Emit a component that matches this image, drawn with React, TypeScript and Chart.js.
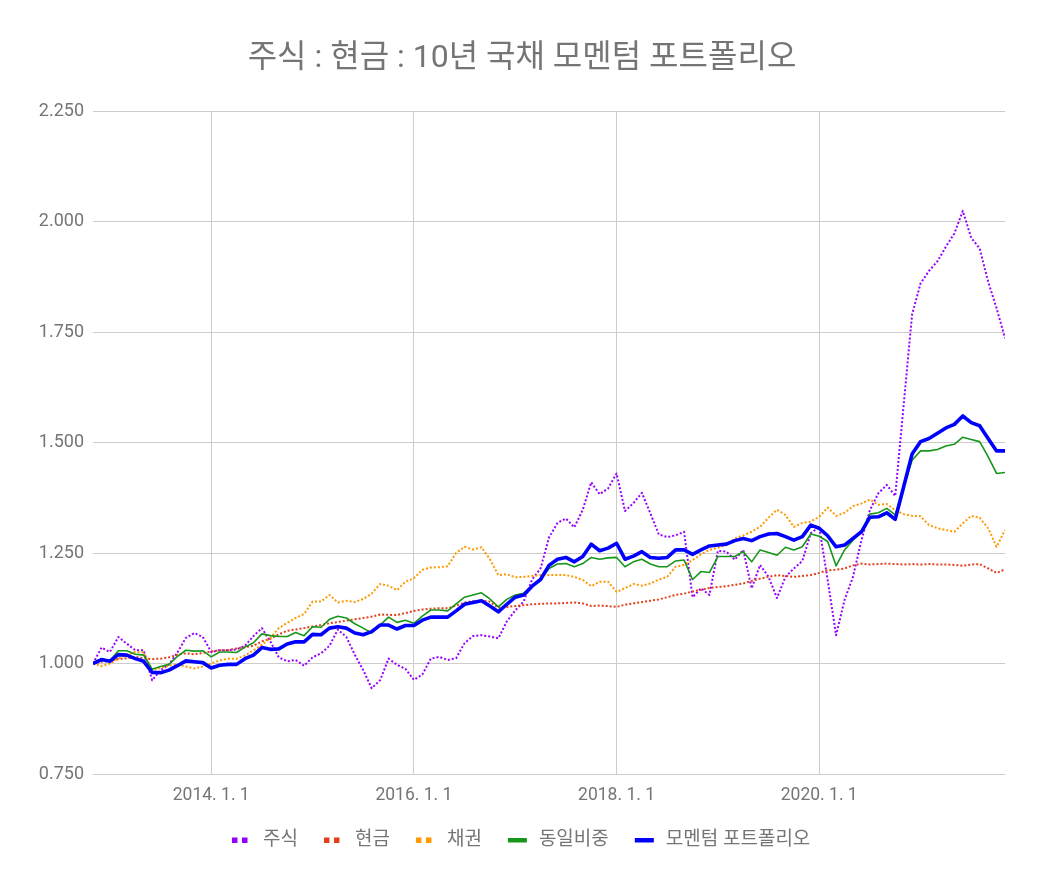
import { useEffect, useRef } from "react";
import { Chart, registerables, type Plugin } from "chart.js";

Chart.register(...registerables);

// monthly observations, first one is 2012-11
const START_YEAR = 2012;
const START_MONTH = 11;

const title = "주식 : 현금 : 10년 국채 모멘텀 포트폴리오";
const seriesNames = ["주식", "현금", "채권", "동일비중", "모멘텀 포트폴리오"];

const stock = [
  1.000, 1.036, 1.026, 1.060, 1.045, 1.030, 1.030, 0.962, 0.985, 0.998, 1.025, 1.058,
  1.069, 1.060, 1.026, 1.030, 1.030, 1.032, 1.040, 1.062, 1.080, 1.050, 1.014, 1.005,
  1.008, 0.995, 1.014, 1.023, 1.040, 1.077, 1.060, 1.020, 0.985, 0.944, 0.962, 1.011,
  0.997, 0.988, 0.963, 0.975, 1.011, 1.015, 1.008, 1.012, 1.046, 1.062, 1.064, 1.061,
  1.057, 1.095, 1.120, 1.140, 1.190, 1.215, 1.285, 1.318, 1.328, 1.308, 1.348, 1.410,
  1.383, 1.396, 1.430, 1.345, 1.363, 1.386, 1.340, 1.292, 1.286, 1.290, 1.298, 1.150,
  1.170, 1.155, 1.255, 1.253, 1.235, 1.257, 1.170, 1.223, 1.196, 1.148, 1.196, 1.215,
  1.232, 1.295, 1.309, 1.189, 1.064, 1.144, 1.196, 1.279, 1.347, 1.385, 1.404, 1.379,
  1.585, 1.790, 1.860, 1.888, 1.910, 1.943, 1.973, 2.024, 1.963, 1.939, 1.864, 1.804,
  1.736,
];

const cash = [
  1.000, 1.004, 1.006, 1.010, 1.012, 1.015, 1.012, 1.010, 1.011, 1.014, 1.020, 1.023,
  1.021, 1.024, 1.027, 1.030, 1.030, 1.034, 1.037, 1.040, 1.050, 1.056, 1.066, 1.074,
  1.077, 1.080, 1.084, 1.087, 1.091, 1.094, 1.097, 1.100, 1.103, 1.106, 1.111, 1.110,
  1.110, 1.114, 1.119, 1.122, 1.124, 1.125, 1.125, 1.131, 1.138, 1.141, 1.142, 1.140,
  1.126, 1.128, 1.130, 1.132, 1.134, 1.135, 1.136, 1.136, 1.137, 1.138, 1.136, 1.130,
  1.131, 1.130, 1.128, 1.133, 1.136, 1.139, 1.142, 1.145, 1.150, 1.155, 1.158, 1.163,
  1.167, 1.171, 1.173, 1.175, 1.178, 1.181, 1.187, 1.192, 1.196, 1.200, 1.198, 1.196,
  1.198, 1.200, 1.205, 1.211, 1.212, 1.215, 1.222, 1.226, 1.224, 1.225, 1.226, 1.225,
  1.224, 1.225, 1.224, 1.225, 1.224, 1.224, 1.223, 1.221, 1.224, 1.225, 1.215, 1.205,
  1.213,
];

const bond = [
  1.000, 0.994, 1.000, 1.011, 1.020, 1.026, 1.025, 0.985, 0.990, 0.995, 0.998, 0.993,
  0.989, 0.993, 1.000, 1.007, 1.011, 1.011, 1.018, 1.030, 1.042, 1.058, 1.080, 1.092,
  1.103, 1.112, 1.140, 1.140, 1.155, 1.138, 1.142, 1.139, 1.146, 1.158, 1.180, 1.176,
  1.166, 1.185, 1.193, 1.212, 1.217, 1.218, 1.220, 1.250, 1.264, 1.258, 1.263, 1.236,
  1.200, 1.202, 1.195, 1.196, 1.198, 1.200, 1.200, 1.200, 1.200, 1.196, 1.189, 1.175,
  1.185, 1.185, 1.162, 1.170, 1.180, 1.176, 1.181, 1.190, 1.196, 1.219, 1.223, 1.234,
  1.247, 1.257, 1.262, 1.268, 1.283, 1.290, 1.298, 1.309, 1.330, 1.348, 1.336, 1.309,
  1.318, 1.321, 1.332, 1.353, 1.334, 1.341, 1.356, 1.362, 1.371, 1.359, 1.361, 1.347,
  1.338, 1.334, 1.333, 1.313, 1.306, 1.302, 1.298, 1.317, 1.334, 1.330, 1.306, 1.264,
  1.302,
];

const equalWeight = [
  1.000, 1.010, 1.006, 1.029, 1.029, 1.021, 1.019, 0.987, 0.993, 0.998, 1.016, 1.030,
  1.028, 1.029, 1.015, 1.026, 1.026, 1.025, 1.037, 1.047, 1.067, 1.063, 1.061, 1.061,
  1.070, 1.063, 1.083, 1.082, 1.100, 1.107, 1.103, 1.090, 1.080, 1.069, 1.087, 1.105,
  1.093, 1.098, 1.091, 1.107, 1.121, 1.121, 1.119, 1.135, 1.150, 1.155, 1.160, 1.146,
  1.128, 1.145, 1.155, 1.159, 1.175, 1.190, 1.215, 1.225, 1.226, 1.219, 1.226, 1.240,
  1.236, 1.239, 1.240, 1.219, 1.230, 1.236, 1.225, 1.219, 1.219, 1.232, 1.234, 1.190,
  1.208, 1.206, 1.242, 1.242, 1.242, 1.253, 1.230, 1.257, 1.251, 1.245, 1.263, 1.257,
  1.264, 1.293, 1.288, 1.276, 1.221, 1.257, 1.279, 1.298, 1.338, 1.341, 1.351, 1.336,
  1.400, 1.460, 1.481, 1.481, 1.484, 1.492, 1.496, 1.512, 1.507, 1.502, 1.468, 1.430,
  1.432,
];

const momentum = [
  1.000, 1.009, 1.005, 1.020, 1.019, 1.011, 1.005, 0.980, 0.979, 0.985, 0.995, 1.006,
  1.004, 1.002, 0.990, 0.996, 0.998, 0.998, 1.011, 1.019, 1.036, 1.032, 1.033, 1.044,
  1.049, 1.049, 1.066, 1.065, 1.080, 1.083, 1.080, 1.069, 1.065, 1.072, 1.087, 1.087,
  1.078, 1.086, 1.086, 1.098, 1.105, 1.105, 1.105, 1.119, 1.134, 1.138, 1.142, 1.130,
  1.117, 1.134, 1.150, 1.155, 1.175, 1.190, 1.222, 1.236, 1.240, 1.230, 1.242, 1.270,
  1.255, 1.261, 1.272, 1.236, 1.243, 1.253, 1.240, 1.238, 1.240, 1.257, 1.257, 1.247,
  1.257, 1.266, 1.268, 1.270, 1.278, 1.283, 1.278, 1.287, 1.293, 1.294, 1.287, 1.279,
  1.287, 1.313, 1.306, 1.289, 1.264, 1.268, 1.283, 1.298, 1.331, 1.332, 1.341, 1.326,
  1.400, 1.474, 1.502, 1.509, 1.521, 1.533, 1.541, 1.560, 1.545, 1.538, 1.509, 1.481,
  1.481,
];

const xTickYears = [2014, 2016, 2018, 2020];
const yMin = 0.75;
const yMax = 2.25;
const yStep = 0.25;

const FONT = "Roboto, 'Noto Sans CJK KR', sans-serif";
const TEXT_GRAY = "#757575";
const GRID = "#cccccc";

const lineStyles = [
  { color: "#9900ff", width: 2, dash: [2, 2], order: 5 },
  { color: "#e2401c", width: 2, dash: [2, 2], order: 4 },
  { color: "#ff9900", width: 2, dash: [2, 2], order: 3 },
  { color: "#17961a", width: 1.6, dash: [] as number[], order: 2 },
  { color: "#0000ff", width: 3.6, dash: [] as number[], order: 1 },
];

const allSeries = [stock, cash, bond, equalWeight, momentum];

// month offset of Jan 1 of a given year, counted from the first observation
const monthIndex = (year: number) => (year - START_YEAR) * 12 + (1 - START_MONTH);

const titlePlugin: Plugin<"line"> = {
  id: "sheetTitle",
  afterDraw(chart) {
    const { ctx } = chart;
    ctx.save();
    ctx.font = `32px ${FONT}`;
    ctx.fillStyle = TEXT_GRAY;
    ctx.textAlign = "center";
    ctx.textBaseline = "middle";
    ctx.fillText(title, 522, 59);
    ctx.restore();
  },
};

const legendPlugin: Plugin<"line"> = {
  id: "sheetLegend",
  afterDraw(chart) {
    const { ctx } = chart;
    ctx.save();
    ctx.font = `19px ${FONT}`;
    ctx.textBaseline = "middle";
    ctx.textAlign = "left";
    const y = 840;
    let x = 232;
    seriesNames.forEach((name, i) => {
      const st = lineStyles[i];
      ctx.fillStyle = st.color;
      if (st.dash.length) {
        ctx.fillRect(x, y - 2.5, 5.5, 5.5);
        ctx.fillRect(x + 10, y - 2.5, 5.5, 5.5);
      } else {
        ctx.fillRect(x, y - 2, 19, 4.5);
      }
      ctx.fillStyle = TEXT_GRAY;
      const tx = x + 31;
      ctx.fillText(name, tx, y);
      x = tx + ctx.measureText(name).width + 26;
    });
    ctx.restore();
  },
};

export default function App() {
  const canvasRef = useRef<HTMLCanvasElement>(null);
  const chartRef = useRef<Chart | null>(null);

  useEffect(() => {
    if (!canvasRef.current) return;
    if (chartRef.current) chartRef.current.destroy();

    chartRef.current = new Chart(canvasRef.current, {
      type: "line",
      data: {
        datasets: allSeries.map((values, i) => ({
          label: seriesNames[i],
          data: values.map((v, k) => ({ x: k, y: v })),
          borderColor: lineStyles[i].color,
          backgroundColor: lineStyles[i].color,
          borderWidth: lineStyles[i].width,
          borderDash: lineStyles[i].dash,
          borderJoinStyle: "round",
          pointRadius: 0,
          pointHoverRadius: 0,
          tension: 0,
          fill: false,
          order: lineStyles[i].order,
        })),
      },
      options: {
        animation: false,
        responsive: true,
        maintainAspectRatio: false,
        layout: { padding: { top: 111, right: 32, bottom: 0, left: 0 } },
        plugins: {
          legend: { display: false },
          title: { display: false },
          tooltip: { enabled: false },
        },
        scales: {
          x: {
            type: "linear",
            min: 0,
            max: stock.length - 1,
            afterFit: (scale) => {
              scale.height = 109;
            },
            afterBuildTicks: (scale) => {
              scale.ticks = xTickYears.map((yr) => ({ value: monthIndex(yr) }));
            },
            grid: { color: GRID, lineWidth: 1, drawTicks: false },
            border: { display: false },
            ticks: {
              color: TEXT_GRAY,
              font: { family: FONT, size: 17.5 },
              padding: 11,
              maxRotation: 0,
              autoSkip: false,
              callback: (_v, idx) => `${xTickYears[idx]}. 1. 1`,
            },
          },
          y: {
            min: yMin,
            max: yMax,
            afterFit: (scale) => {
              scale.width = 93;
            },
            grid: { color: GRID, lineWidth: 1, drawTicks: false },
            border: { display: false },
            ticks: {
              stepSize: yStep,
              color: TEXT_GRAY,
              font: { family: FONT, size: 18 },
              padding: 9,
              callback: (v) => Number(v).toFixed(3),
            },
          },
        },
      },
      plugins: [titlePlugin, legendPlugin],
    });

    return () => chartRef.current?.destroy();
  }, []);

  return (
    <div style={{ position: "absolute", left: 0, top: 0, width: 1037, height: 883, background: "#fff" }}>
      <canvas ref={canvasRef} role="img" aria-label="주식, 현금, 채권, 동일비중, 모멘텀 포트폴리오 누적 수익 추이 라인 차트" />
    </div>
  );
}
